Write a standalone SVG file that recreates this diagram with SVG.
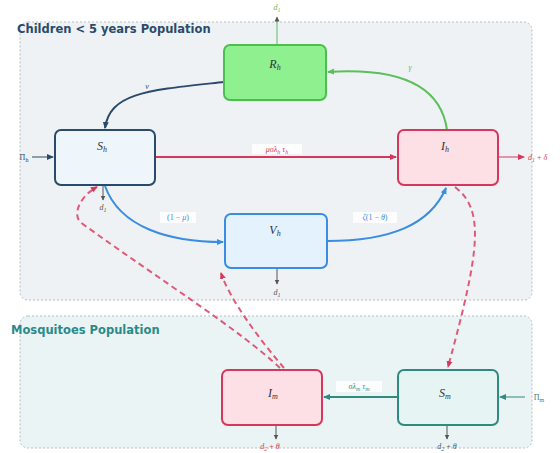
<svg xmlns="http://www.w3.org/2000/svg" width="560" height="453" viewBox="0 0 560 453">
<style>
.cl{stroke:#b8bec6;stroke-width:1;stroke-dasharray:2,2}
.nt{font-family:"Liberation Serif",serif;font-style:italic;font-size:12px;text-anchor:middle;fill:#333}
.lb{font-family:"Liberation Serif",serif;font-size:8px;text-anchor:middle}
.lbi{font-family:"Liberation Serif",serif;font-size:8px;font-style:italic}
.tt{font-family:"DejaVu Sans",sans-serif;font-weight:bold;font-size:11.5px}
.c{fill:none;stroke-width:2}
.s{fill:none;stroke-width:1}
.bg{fill:#ffffff;opacity:0.85}
</style>
<defs>
<marker id="aN" markerWidth="8" markerHeight="8" refX="6" refY="4" orient="auto" markerUnits="userSpaceOnUse"><path d="M0,1 L7,4 L0,7 z" fill="#2b4a6b"/></marker>
<marker id="aG" markerWidth="8" markerHeight="8" refX="6" refY="4" orient="auto" markerUnits="userSpaceOnUse"><path d="M0,1 L7,4 L0,7 z" fill="#5bbf5b"/></marker>
<marker id="aR" markerWidth="8" markerHeight="8" refX="6" refY="4" orient="auto" markerUnits="userSpaceOnUse"><path d="M0,1 L7,4 L0,7 z" fill="#d7375a"/></marker>
<marker id="aB" markerWidth="8" markerHeight="8" refX="6" refY="4" orient="auto" markerUnits="userSpaceOnUse"><path d="M0,1 L7,4 L0,7 z" fill="#3a8de0"/></marker>
<marker id="aT" markerWidth="8" markerHeight="8" refX="6" refY="4" orient="auto" markerUnits="userSpaceOnUse"><path d="M0,1 L7,4 L0,7 z" fill="#2f8a7f"/></marker>
<marker id="aS" markerWidth="6" markerHeight="6" refX="4.5" refY="3" orient="auto" markerUnits="userSpaceOnUse"><path d="M0,0.5 L5,3 L0,5.5 z" fill="#555"/></marker>
</defs>

<g id="cluster-children">
<rect x="20" y="22" width="512" height="278" rx="8" fill="#eef2f5" class="cl"/>
<text x="17" y="33" class="tt" fill="#2b4a6b">Children &lt; 5 years Population</text>
</g>
<g id="cluster-mosquitoes">
<rect x="20" y="316" width="512" height="132" rx="8" fill="#eaf4f4" class="cl"/>
<text x="11" y="334" class="tt" fill="#2a8a8a">Mosquitoes Population</text>
</g>

<g id="connectors">
<path class="c" d="M224,82 C150,90 110,92 105,128" stroke="#2b4a6b" marker-end="url(#aN)"/>
<path class="c" d="M447,130 C440,80 390,68 328,72" stroke="#5bbf5b" marker-end="url(#aG)"/>
<path class="c" d="M155,157 L396,157" stroke="#d7375a" marker-end="url(#aR)"/>
<path class="c" d="M105,186 C120,228 170,242 223,242" stroke="#3a8de0" marker-end="url(#aB)"/>
<path class="c" d="M327,241 C390,241 430,225 446,188" stroke="#3a8de0" marker-end="url(#aB)"/>
<path class="c" d="M455,187 C485,210 480,250 448,367" stroke="#e05a78" stroke-dasharray="6,4" marker-end="url(#aR)"/>
<path class="c" d="M280,368 C240,330 160,280 80,222 C72,212 82,195 97,187" stroke="#e05a78" stroke-dasharray="6,4" marker-end="url(#aR)"/>
<path class="c" d="M284,368 C260,340 230,300 221,273" stroke="#e05a78" stroke-dasharray="6,4" marker-end="url(#aR)"/>
<path class="c" d="M398,397 L324,397" stroke="#2f8a7f" marker-end="url(#aT)"/>
<path class="s" d="M32,157 L53,157" stroke="#2b4a6b" marker-end="url(#aN)"/>
<path class="s" d="M525,397 L500,397" stroke="#2f8a7f" marker-end="url(#aT)"/>
<path class="s" d="M103,186 L103,200" stroke="#555" marker-end="url(#aS)"/>
<path class="s" d="M277,269 L277,284" stroke="#555" marker-end="url(#aS)"/>
<path class="s" d="M277,45 L277,17" stroke="#5bbf5b" marker-end="url(#aS)"/>
<path class="s" d="M499,157 L524,157" stroke="#d7375a" marker-end="url(#aR)"/>
<path class="s" d="M276,426 L276,439" stroke="#555" marker-end="url(#aS)"/>
<path class="s" d="M447,426 L447,439" stroke="#555" marker-end="url(#aS)"/>

<text x="147" y="89" class="lbi" fill="#2b4a6b" text-anchor="middle">ν</text>
<text x="410" y="70" class="lbi" fill="#5bbf5b" text-anchor="middle">γ</text>
<rect x="252" y="144" width="50" height="10" class="bg"/>
<text x="277" y="152" class="lbi" fill="#d7375a" text-anchor="middle">μσλ<tspan font-size="6" dy="1.5">h</tspan><tspan dy="-1.5"> τ</tspan><tspan font-size="6" dy="1.5">h</tspan></text>
<rect x="160" y="212" width="36" height="11" class="bg"/>
<text x="178" y="220" class="lb" fill="#3a8de0">(1 − <tspan font-style="italic">μ</tspan>)</text>
<rect x="353" y="212" width="44" height="11" class="bg"/>
<text x="375" y="220" class="lb" fill="#3a8de0"><tspan font-style="italic">ζ</tspan>(1 − <tspan font-style="italic">θ</tspan>)</text>
<rect x="336" y="381" width="46" height="11" class="bg"/>
<text x="359" y="389" class="lbi" fill="#2f8a7f" text-anchor="middle">σλ<tspan font-size="6" dy="1.5">m</tspan><tspan dy="-1.5"> τ</tspan><tspan font-size="6" dy="1.5">m</tspan></text>
<text x="24" y="160" class="lb" fill="#2b4a6b">Π<tspan font-size="6" dy="1.5">h</tspan></text>
<text x="539" y="400" class="lb" fill="#2f8a7f">Π<tspan font-size="6" dy="1.5">m</tspan></text>
<text x="103" y="210" class="lbi" fill="#555" text-anchor="middle">d<tspan font-size="6" dy="1.5">1</tspan></text>
<text x="277" y="295" class="lbi" fill="#555" text-anchor="middle">d<tspan font-size="6" dy="1.5">1</tspan></text>
<text x="277" y="10" class="lbi" fill="#5bbf5b" text-anchor="middle">d<tspan font-size="6" dy="1.5">1</tspan></text>
<text x="528" y="160" class="lbi" fill="#d7375a">d<tspan font-size="6" dy="1.5">1</tspan><tspan dy="-1.5" font-style="normal"> + </tspan>δ</text>
<text x="270" y="449" class="lbi" fill="#d7375a" text-anchor="middle">d<tspan font-size="6" dy="1.5">2</tspan><tspan dy="-1.5" font-style="normal"> + </tspan>θ</text>
<text x="447" y="449" class="lbi" fill="#555" text-anchor="middle">d<tspan font-size="6" dy="1.5">2</tspan><tspan dy="-1.5" font-style="normal"> + </tspan>θ</text>
</g>

<g id="R_h">
<rect x="224" y="45" width="102" height="55" rx="6" fill="#8ef08e" stroke="#4cbf4c" stroke-width="2"/>
<text x="275" y="68" class="nt">R<tspan font-size="8" dy="2">h</tspan></text>
</g>
<g id="S_h">
<rect x="55" y="130" width="100" height="55" rx="6" fill="#eef6fc" stroke="#2b4a6b" stroke-width="2"/>
<text x="102" y="150" class="nt">S<tspan font-size="8" dy="2">h</tspan></text>
</g>
<g id="I_h">
<rect x="398" y="130" width="100" height="55" rx="6" fill="#fde0e6" stroke="#d7375a" stroke-width="2"/>
<text x="445" y="150" class="nt">I<tspan font-size="8" dy="2">h</tspan></text>
</g>
<g id="V_h">
<rect x="225" y="214" width="102" height="54" rx="6" fill="#e4f2fd" stroke="#3a8de0" stroke-width="2"/>
<text x="275" y="234" class="nt">V<tspan font-size="8" dy="2">h</tspan></text>
</g>
<g id="I_m">
<rect x="222" y="370" width="100" height="55" rx="6" fill="#fde0e6" stroke="#d7375a" stroke-width="2"/>
<text x="273" y="397" class="nt">I<tspan font-size="8" dy="2">m</tspan></text>
</g>
<g id="S_m">
<rect x="398" y="370" width="100" height="55" rx="6" fill="#e6f5f3" stroke="#2f8a7f" stroke-width="2"/>
<text x="445" y="397" class="nt">S<tspan font-size="8" dy="2">m</tspan></text>
</g>
</svg>
